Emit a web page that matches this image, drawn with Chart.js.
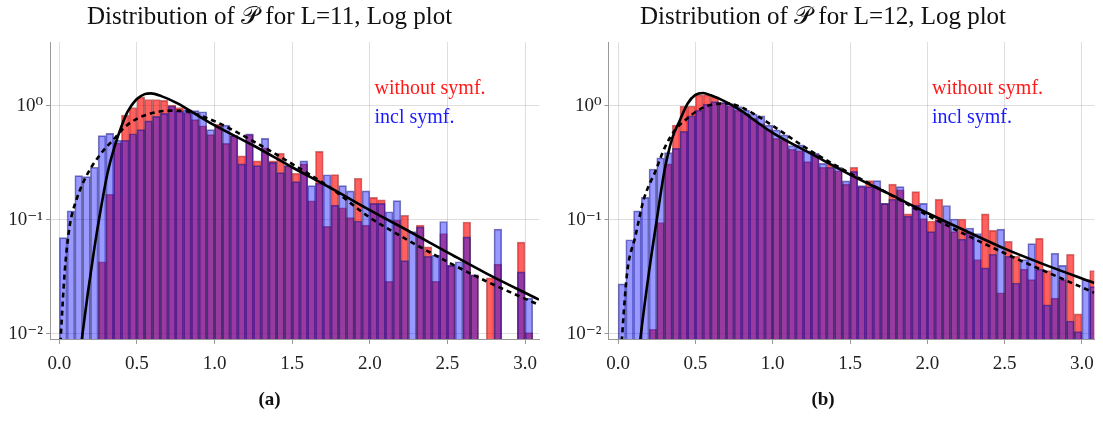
<!DOCTYPE html>
<html lang="en">
<head>
<meta charset="UTF-8">
<title>Distribution of P, Log plot</title>
<script src="https://cdn.jsdelivr.net/npm/chart.js"></script>
<style>
  body { margin: 0; background: #fff; }
  .row { display: flex; width: 1103px; height: 421px; }
  .panel { position: relative; height: 421px; }
</style>
</head>
<body>
<div class="row">
  <div class="panel" style="width:551px"><canvas id="chartA"></canvas></div>
  <div class="panel" style="width:552px"><canvas id="chartB"></canvas></div>
</div>
<script>
// bin centres (bins of width 0.05)
const binCenters = [0.025, 0.075, 0.125, 0.175, 0.225, 0.275, 0.325, 0.375, 0.425, 0.475,
  0.525, 0.575, 0.625, 0.675, 0.725, 0.775, 0.825, 0.875, 0.925, 0.975,
  1.025, 1.075, 1.125, 1.175, 1.225, 1.275, 1.325, 1.375, 1.425, 1.475,
  1.525, 1.575, 1.625, 1.675, 1.725, 1.775, 1.825, 1.875, 1.925, 1.975,
  2.025, 2.075, 2.125, 2.175, 2.225, 2.275, 2.325, 2.375, 2.425, 2.475,
  2.525, 2.575, 2.625, 2.675, 2.725, 2.775, 2.825, 2.875, 2.925, 2.975,
  3.025, 3.075];

// L=11
const withoutSymA = [null, null, null, null, null, 0.043, 0.168, 0.475, 0.83, 0.97,
  1.20, 1.14, 1.14, 1.12, 1.02, 0.97, 0.87, 0.76, 0.67, 0.56,
  0.69, 0.47, 0.55, 0.365, 0.56, 0.33, 0.43, 0.33, 0.385, 0.30,
  0.257, 0.31, 0.147, 0.40, 0.088, 0.25, 0.128, 0.105, 0.232, 0.09,
  0.158, 0.15, 0.029, 0.10, 0.11, null, 0.09, 0.058, 0.029, 0.076,
  0.040, null, 0.096, 0.033, null, 0.031, 0.041, null, null, 0.064,
  0.0103, null];
const inclSymA = [0.070, 0.12, 0.245, 0.24, 0.29, 0.55, 0.575, 0.50, 0.50, 0.57,
  0.62, 0.74, 0.81, 0.86, 1.0, 0.90, 0.93, 0.91, 0.89, 0.62,
  0.67, 0.68, 0.55, 0.31, 0.57, 0.30, 0.52, 0.32, 0.26, 0.30,
  0.217, 0.33, 0.20, 0.21, 0.249, 0.135, 0.20, 0.18, 0.098, 0.18,
  0.14, 0.14, 0.118, 0.148, 0.044, 0.079, 0.087, 0.048, 0.049, 0.097,
  0.040, 0.043, 0.071, 0.033, null, null, 0.083, null, null, 0.035,
  0.0206, null];

// L=12
const withoutSymB = [null, null, null, null, 0.011, 0.095, 0.31, 0.68, 1.0, 1.0,
  1.25, 1.25, 1.2, 1.07, 1.0, 0.92, 0.85, 0.78, 0.70, 0.62,
  0.52, 0.50, 0.417, 0.405, 0.325, 0.38, 0.29, 0.31, 0.27, 0.206,
  0.29, 0.196, 0.221, 0.194, 0.14, 0.206, 0.184, 0.113, 0.177, 0.103,
  0.098, 0.152, 0.095, 0.079, 0.102, 0.077, 0.045, 0.113, 0.081, 0.023,
  0.065, 0.048, 0.037, 0.030, 0.069, 0.036, 0.0206, 0.030, 0.050, 0.015,
  null, 0.036];
const inclSymB = [0.0275, 0.067, 0.12, 0.158, 0.28, 0.35, 0.39, 0.425, 0.60, 0.82,
  0.92, 1.04, 1.09, 1.07, 1.05, 0.99, 0.92, 0.85, 0.82, 0.68,
  0.616, 0.557, 0.45, 0.455, 0.405, 0.385, 0.314, 0.29, 0.29, 0.22,
  0.267, 0.20, 0.196, 0.221, 0.14, 0.152, 0.196, 0.108, 0.135, 0.14,
  0.079, 0.10, 0.134, 0.102, 0.068, 0.085, 0.076, 0.038, 0.050, 0.083,
  0.048, 0.028, 0.045, 0.062, 0.037, 0.018, 0.051, 0.040, 0.013, 0.0105,
  0.030, 0.026];

// fitted curves
const fitSolidAx = [0.13, 0.144, 0.184, 0.227, 0.27, 0.31, 0.356, 0.40, 0.44, 0.496, 0.55, 0.59, 0.657, 0.765, 0.87, 0.98, 1.25, 1.5, 1.75, 2.0, 2.25, 2.5, 2.75, 3.09];
const fitSolidAy = [0.006, 0.0088, 0.023, 0.058, 0.131, 0.256, 0.44, 0.66, 0.89, 1.14, 1.27, 1.29, 1.22, 1.05, 0.86, 0.70, 0.45, 0.29, 0.19, 0.122, 0.080, 0.052, 0.034, 0.020];
const fitDashAx = [0.004, 0.034, 0.066, 0.11, 0.184, 0.27, 0.345, 0.42, 0.506, 0.614, 0.72, 0.83, 0.937, 1.03, 1.25, 1.5, 1.75, 2.0, 2.25, 2.5, 2.75, 3.09];
const fitDashAy = [0.007, 0.034, 0.087, 0.15, 0.257, 0.385, 0.50, 0.65, 0.78, 0.875, 0.91, 0.89, 0.795, 0.705, 0.49, 0.31, 0.19, 0.105, 0.066, 0.043, 0.029, 0.018];

const fitSolidBx = [0.13, 0.143, 0.2, 0.25, 0.3, 0.35, 0.4, 0.45, 0.5, 0.55, 0.6, 0.7, 0.8, 0.9, 1.0, 1.25, 1.5, 1.75, 2.0, 2.25, 2.5, 2.75, 3.08];
const fitSolidBy = [0.006, 0.0088, 0.035, 0.10, 0.27, 0.52, 0.75, 1.05, 1.25, 1.30, 1.24, 1.08, 0.90, 0.72, 0.58, 0.38, 0.25, 0.17, 0.115, 0.08, 0.056, 0.041, 0.028];
const fitDashBx = [0.015, 0.058, 0.111, 0.165, 0.24, 0.305, 0.37, 0.434, 0.52, 0.628, 0.714, 0.8, 0.9, 1.0, 1.25, 1.5, 1.75, 2.0, 2.25, 2.5, 2.75, 3.08];
const fitDashBy = [0.006, 0.034, 0.071, 0.15, 0.265, 0.44, 0.62, 0.75, 0.92, 1.04, 1.05, 0.97, 0.82, 0.67, 0.40, 0.257, 0.17, 0.11, 0.074, 0.051, 0.036, 0.023];

const xTicks = [0, 0.5, 1.0, 1.5, 2.0, 2.5, 3.0];
const yTicks = [0.01, 0.1, 1];
const yTickLabels = ['10\u207B\u00B2', '10\u207B\u00B9', '10\u2070'];

const serif = '"Liberation Serif", "DejaVu Serif", serif';

const seriesLabels = {
  id: 'seriesLabels',
  afterDraw(chart, args, opts) {
    const { ctx, scales: { x, y } } = chart;
    ctx.save();
    ctx.font = '20px ' + serif;
    ctx.textBaseline = 'middle';
    opts.items.forEach(it => {
      ctx.fillStyle = it.color;
      ctx.fillText(it.text, x.getPixelForValue(it.x), y.getPixelForValue(it.y));
    });
    ctx.restore();
  }
};

function pts(xs, ys) {
  return xs.map((x, i) => ({ x: x, y: ys[i] }));
}

function makeChart(id, title, caption, red, blue, sx, sy, dx, dy, xMin, xMax, yWidth, padRight) {
  return new Chart(document.getElementById(id), {
    type: 'bar',
    data: {
      datasets: [
        {
          label: 'without symf.',
          data: pts(binCenters, red),
          backgroundColor: 'rgba(255,0,0,0.62)',
          borderColor: 'rgba(150,20,20,0.55)',
          borderWidth: 1,
          order: 3
        },
        {
          label: 'incl symf.',
          data: pts(binCenters, blue),
          backgroundColor: 'rgba(0,0,255,0.40)',
          borderColor: 'rgba(20,20,120,0.55)',
          borderWidth: 1,
          order: 2
        },
        {
          type: 'line',
          label: 'fit without',
          data: pts(sx, sy),
          borderColor: '#000',
          borderWidth: 2.6,
          pointRadius: 0,
          cubicInterpolationMode: 'monotone',
          fill: false,
          order: 0
        },
        {
          type: 'line',
          label: 'fit incl',
          data: pts(dx, dy),
          borderColor: '#000',
          borderWidth: 2.6,
          borderDash: [5, 4],
          pointRadius: 0,
          cubicInterpolationMode: 'monotone',
          fill: false,
          order: 1
        }
      ]
    },
    options: {
      responsive: true,
      maintainAspectRatio: false,
      animation: false,
      grouped: false,
      barPercentage: 1,
      categoryPercentage: 1,
      layout: { padding: { left: 0, right: padRight, top: 0, bottom: 0 } },
      plugins: {
        legend: { display: false },
        tooltip: { enabled: false },
        title: {
          display: true,
          text: title,
          color: '#111',
          font: { family: serif, size: 25, weight: 'normal' },
          padding: { top: 2, bottom: 10 }
        },
        subtitle: {
          display: true,
          text: caption,
          position: 'bottom',
          color: '#111',
          font: { family: serif, size: 19, weight: 'bold' },
          padding: { top: 6, bottom: 10 }
        },
        seriesLabels: {
          items: [
            { text: 'without symf.', color: '#ff1a1a', x: 2.03, y: 1.41 },
            { text: 'incl symf.', color: '#1a1aff', x: 2.03, y: 0.785 }
          ]
        }
      },
      scales: {
        x: {
          type: 'linear',
          min: xMin,
          max: xMax,
          offset: false,
          afterBuildTicks: s => { s.ticks = xTicks.map(v => ({ value: v })); },
          afterFit: s => { s.height = 43.2; },
          ticks: {
            callback: v => v.toFixed(1),
            color: '#222',
            font: { family: serif, size: 19 },
            padding: 9,
            maxRotation: 0
          },
          grid: { offset: false, color: 'rgba(0,0,0,0.13)', tickLength: 5, tickColor: '#999' },
          border: { color: '#999' }
        },
        y: {
          type: 'logarithmic',
          min: 0.00903,
          max: 3.64,
          afterBuildTicks: s => { s.ticks = yTicks.map(v => ({ value: v })); },
          afterFit: s => { s.width = yWidth; },
          ticks: {
            callback: (v, i) => yTickLabels[i],
            color: '#222',
            font: { family: serif, size: 19 },
            padding: 3
          },
          grid: { color: 'rgba(0,0,0,0.13)', tickLength: 4, tickColor: '#999' },
          border: { color: '#999' }
        }
      }
    },
    plugins: [seriesLabels]
  });
}

makeChart('chartA', 'Distribution of \uD835\uDCAB for L=11, Log plot', '(a)',
  withoutSymA, inclSymA, fitSolidAx, fitSolidAy, fitDashAx, fitDashAy, -0.06, 3.09, 50, 12);
makeChart('chartB', 'Distribution of \uD835\uDCAB for L=12, Log plot', '(b)',
  withoutSymB, inclSymB, fitSolidBx, fitSolidBy, fitDashBx, fitDashBy, -0.062, 3.08, 57.5, 8);
</script>
</body>
</html>
